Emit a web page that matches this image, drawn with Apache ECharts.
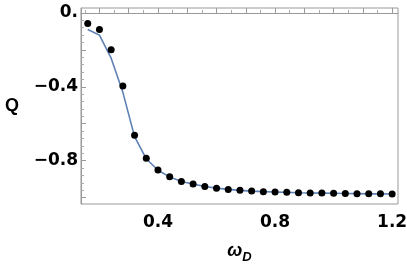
<!DOCTYPE html>
<html><head><meta charset="utf-8">
<script src="https://cdn.jsdelivr.net/npm/echarts@6/dist/echarts.min.js"></script>
<style>html,body{margin:0;padding:0;background:#fff}#c{width:407px;height:267px}</style>
</head><body><div id="c"></div>
<script>
const omega = [0.16,0.2,0.24,0.28,0.32,0.36,0.4,0.44,0.48,0.52,0.56,0.6,0.64,0.68,0.72,0.76,0.8,0.84,0.88,0.92,0.96,1.0,1.04,1.08,1.12,1.16,1.2];
const qPoints = [-0.057,-0.089,-0.199,-0.396,-0.662,-0.787,-0.851,-0.888,-0.913,-0.927,-0.940,-0.949,-0.956,-0.961,-0.965,-0.968,-0.970,-0.972,-0.974,-0.975,-0.976,-0.977,-0.978,-0.979,-0.980,-0.980,-0.981];
const qLine = [-0.089,-0.120,-0.245,-0.430,-0.670,-0.790,-0.852,-0.888,-0.913,-0.927,-0.940,-0.949,-0.956,-0.961,-0.965,-0.968,-0.970,-0.972,-0.974,-0.975,-0.976,-0.977,-0.978,-0.979,-0.980,-0.980,-0.981];
const xLabelValues = [0.4, 0.8, 1.2];
const xMajorTicks = [0.2,0.3,0.4,0.5,0.6,0.7,0.8,0.9,1.0,1.1,1.2];
const xMinorTicks = [0.15,0.25,0.35,0.45,0.55,0.65,0.75,0.85,0.95,1.05,1.15];
const yLabelValues = [0, -0.4, -0.8];
const yLabelTexts = ['0.', '\u22120.4', '\u22120.8'];
const yMajorTicks = [0,-0.2,-0.4,-0.6,-0.8,-1.0];
const yMinorTicks = [-0.04,-0.08,-0.12,-0.16,-0.24,-0.28,-0.32,-0.36,-0.44,-0.48,-0.52,-0.56,-0.64,-0.68,-0.72,-0.76,-0.84,-0.88,-0.92,-0.96];

const X_MIN = 0.137, X_MAX = 1.22, Y_MIN = -1.035, Y_MAX = 0.027;
const chart = echarts.init(document.getElementById('c'));
const FF = 'DejaVu Sans, Liberation Sans, Arial, sans-serif';
const lblFont = {fontFamily:FF,fontWeight:'bold',fontSize:17,color:'#000'};
const axisGray = '#999';
chart.setOption({
  animation:false,
  grid:{left:81,top:8,right:9,bottom:63,show:true,borderColor:axisGray,borderWidth:1,containLabel:false,outerBoundsMode:'none'},
  xAxis:[{type:'value',min:X_MIN,max:X_MAX,position:'bottom',
    axisLine:{show:true,lineStyle:{color:axisGray}},
    axisTick:{show:true,inside:true,length:5,customValues:xMajorTicks,lineStyle:{color:axisGray}},
    splitLine:{show:false},
    axisLabel:Object.assign({margin:10,customValues:xLabelValues,formatter:function(v){return v.toFixed(1);}},lblFont),
    name:'{a|\u03c9}{b|D}',nameLocation:'middle',nameGap:35,
    nameTextStyle:{rich:{a:{fontFamily:'Liberation Sans, Arial, sans-serif',fontStyle:'italic',fontWeight:'bold',fontSize:18,color:'#000'},
                         b:{fontFamily:'Liberation Sans, Arial, sans-serif',fontStyle:'italic',fontWeight:'bold',fontSize:13,color:'#000',padding:[12,0,0,0]}}}
  },{type:'value',min:X_MIN,max:X_MAX,position:'bottom',
    axisLine:{show:false},
    axisTick:{show:true,inside:true,length:3,customValues:xMinorTicks,lineStyle:{color:'#aaa'}},
    splitLine:{show:false},
    axisLabel:{show:false}
  }],
  yAxis:[{type:'value',min:Y_MIN,max:Y_MAX,position:'left',
    axisLine:{show:true,lineStyle:{color:axisGray}},
    axisTick:{show:true,inside:true,length:5,customValues:yMajorTicks,lineStyle:{color:axisGray}},
    splitLine:{show:false},
    axisLabel:Object.assign({margin:3,customValues:yLabelValues,formatter:function(v){
      for(let i=0;i<yLabelValues.length;i++){ if(Math.abs(v-yLabelValues[i])<1e-6) return yLabelTexts[i]; } return '';}},lblFont),
    name:'Q',nameLocation:'middle',nameGap:62,nameRotate:0,
    nameTextStyle:{fontFamily:'Liberation Sans, Arial, sans-serif',fontWeight:'bold',fontSize:18,color:'#000'}
  },{type:'value',min:Y_MIN,max:Y_MAX,position:'left',
    axisLine:{show:false},
    axisTick:{show:true,inside:true,length:3,customValues:yMinorTicks,lineStyle:{color:'#aaa'}},
    splitLine:{show:false},
    axisLabel:{show:false}
  }],
  series:[
    {type:'line',xAxisIndex:0,yAxisIndex:0,data:omega.map((x,i)=>[x,qLine[i]]),showSymbol:false,symbol:'none',smooth:false,
     lineStyle:{color:'#5E81B5',width:1.6},z:2},
    {type:'scatter',xAxisIndex:0,yAxisIndex:0,data:omega.map((x,i)=>[x,qPoints[i]]),symbol:'circle',symbolSize:7,
     itemStyle:{color:'#000',opacity:1},z:3}
  ]
});
</script></body></html>
